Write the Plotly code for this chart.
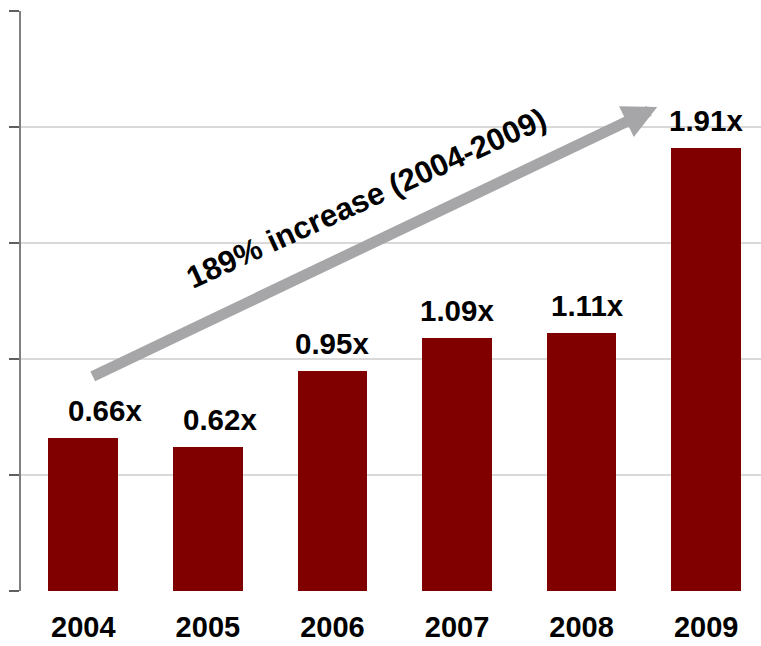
import plotly.graph_objects as go

years = ["2004", "2005", "2006", "2007", "2008", "2009"]
multiples = [0.66, 0.62, 0.95, 1.09, 1.11, 1.91]
labels = ["0.66x", "0.62x", "0.95x", "1.09x", "1.11x", "1.91x"]
label_xnudge = [22, 12, 0, 0, 6, 0]
arrow_text = "189% increase (2004-2009)"
y_ticks = [0, 0.5, 1.0, 1.5, 2.0, 2.5]

FONT = "Liberation Sans, Arial, sans-serif"
xi = list(range(len(years)))

fig = go.Figure()
fig.add_trace(go.Bar(
    x=xi, y=multiples, width=0.56,
    marker=dict(color="#800000", line=dict(width=0)),
    hoverinfo="skip",
))

for i, (v, t, dx) in enumerate(zip(multiples, labels, label_xnudge)):
    fig.add_annotation(
        x=i, y=v, text=f"<b>{t}</b>", showarrow=False,
        yanchor="bottom", yshift=9, xshift=dx,
        font=dict(family=FONT, size=29.5, color="#000000"),
    )

# trend arrow from first bar to last bar
fig.add_annotation(
    x=4.607, y=2.086, ax=0.064, ay=0.922,
    xref="x", yref="y", axref="x", ayref="y",
    text="", showarrow=True, arrowhead=2, arrowsize=0.62,
    arrowwidth=11, arrowcolor="#a6a6a8", standoff=0, startstandoff=0,
)
fig.add_annotation(
    x=2.27, y=1.69, xref="x", yref="y",
    text=f"<b>{arrow_text}</b>", showarrow=False, textangle=-24.5,
    font=dict(family=FONT, size=31, color="#000000"),
)

fig.update_layout(
    width=761, height=646,
    margin=dict(l=21, r=0, t=11, b=55, autoexpand=False),
    plot_bgcolor="white", paper_bgcolor="white",
    showlegend=False, bargap=0,
    xaxis=dict(
        range=[-0.5, 5.44], tickmode="array", tickvals=xi, ticktext=years,
        showgrid=False, zeroline=False, showline=False, ticks="",
        tickfont=dict(family=FONT, size=29, color="#000000", weight="bold"),
        ticklabelstandoff=16, automargin=False,
    ),
    yaxis=dict(
        range=[0, 2.5], tickmode="array", tickvals=y_ticks,
        showticklabels=False, showgrid=True, gridcolor="#d9d9d9", gridwidth=1.5,
        zeroline=False, showline=True, linecolor="#808080", linewidth=2,
        ticks="outside", ticklen=10, tickcolor="#606060", tickwidth=2,
        automargin=False,
    ),
)

fig.write_html("out.html")
